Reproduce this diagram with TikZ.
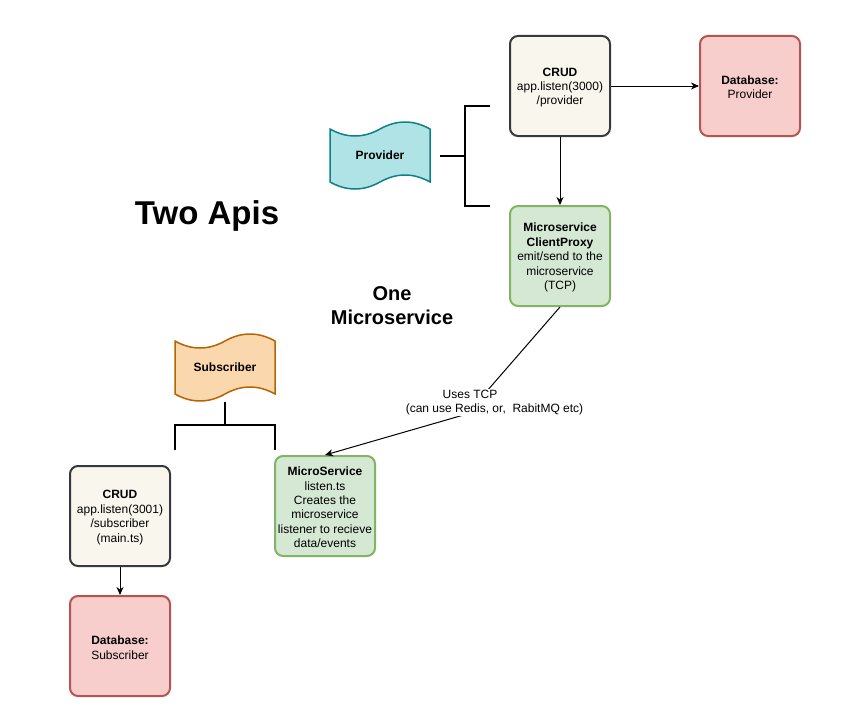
\documentclass[tikz,border=0pt]{standalone}
\usepackage{fontspec}
\setmainfont{Liberation Sans}
\usetikzlibrary{arrows.meta}
\definecolor{crudfill}{HTML}{F9F7ED}
\definecolor{crudline}{HTML}{36393D}
\definecolor{dbfill}{HTML}{F8CECC}
\definecolor{dbline}{HTML}{B85450}
\definecolor{grfill}{HTML}{D5E8D4}
\definecolor{grline}{HTML}{82B366}
\definecolor{provfill}{HTML}{B0E3E6}
\definecolor{provline}{HTML}{0E8088}
\definecolor{subfill}{HTML}{FAD7AC}
\definecolor{subline}{HTML}{B46504}
\newcommand\tapeshape[3]{%
\begin{scope}[shift={(#1)}]
\draw[fill=#2,draw=#3,line width=1.5pt] (-50,-26.5) .. controls (-33.33,-17.17) and (-16.67,-17.17) .. (0,-26.5) .. controls (16.67,-35.83) and (33.33,-35.83) .. (50,-26.5) -- (50,26.5) .. controls (33.33,17.17) and (16.67,17.17) .. (0,26.5) .. controls (-16.67,35.83) and (-33.33,35.83) .. (-50,26.5) -- cycle;
\end{scope}}
\tikzset{
  box/.style={rounded corners=8pt, line width=2pt, minimum width=100pt, minimum height=100pt, inner sep=0pt, align=center, font=\fontsize{12}{14.4}\selectfont},
  crudbox/.style={box, fill=crudfill, draw=crudline},
  dbbox/.style={box, fill=dbfill, draw=dbline},
  greenbox/.style={box, fill=grfill, draw=grline},
  tapetext/.style={minimum width=100pt, minimum height=53pt, inner sep=0pt, font=\fontsize{12}{14.4}\selectfont\bfseries},
  conn/.style={line width=1pt, -{Stealth[length=8pt,width=7pt,inset=2.5pt]}},
  bracket/.style={line width=2pt, line join=miter},
  lbl/.style={fill=white, inner sep=1pt, align=center, font=\fontsize{12}{14.4}\selectfont}
}
\begin{document}
\begin{tikzpicture}[x=1pt,y=-1pt]
\useasboundingbox (0,0) rectangle (842,725);
% boxes
\node[crudbox] (crudP) at (560,86) {};
\node[dbbox] (dbP) at (750,86) {};
\node[greenbox] (cp) at (560,256) {};
\node[greenbox] (ms) at (325,506) {};
\node[crudbox] (crudS) at (120,516) {};
\node[dbbox] (dbS) at (120,646) {};
% box texts
\node[box, minimum height=0pt] (crudPt) at ([yshift=-1.5pt]crudP.center) {\textbf{CRUD}\\app.listen(3000)\\/provider};
\node[box, minimum height=0pt] (dbPt) at ([yshift=-1.5pt]dbP.center) {\textbf{Database:}\\Provider};
\node[box, minimum height=0pt] (cpt) at ([yshift=-1.5pt]cp.center) {\textbf{Microservice}\\\textbf{ClientProxy}\\emit/send to the\\microservice\\(TCP)};
\node[box, minimum height=0pt] (mst) at ([yshift=-1.5pt]ms.center) {\textbf{MicroService}\\listen.ts\\Creates the\\microservice\\listener to recieve\\data/events};
\node[box, minimum height=0pt] (crudSt) at ([yshift=-1.5pt]crudS.center) {\textbf{CRUD}\\app.listen(3001)\\/subscriber\\(main.ts)};
\node[box, minimum height=0pt] (dbSt) at ([yshift=-1.5pt]dbS.center) {\textbf{Database:}\\Subscriber};
% tapes
\coordinate (provC) at (380,155.5);
\tapeshape{provC}{provfill}{provline}
\node[tapetext] (prov) at (provC) {Provider};
\coordinate (subC) at (225,367.5);
\tapeshape{subC}{subfill}{subline}
\node[tapetext] (sub) at (subC) {Subscriber};
% titles
\node[font=\fontsize{33}{40}\selectfont\bfseries] (title) at (207,216) {Two Apis};
\node[font=\fontsize{20}{24}\selectfont\bfseries, align=center] (title2) at (392,306) {One\\Microservice};
% brackets
\coordinate (pb1) at (440,156);
\coordinate (pb2) at (465,156);
\coordinate (pbt) at (490,106);
\coordinate (pbb) at (490,206);
\draw[bracket] (pb1) -- (pb2);
\draw[bracket] (pbt) -- (pbt -| pb2) -- (pbb -| pb2) -- (pbb);
\coordinate (sb1) at (225,402);
\coordinate (sb2) at (225,425);
\coordinate (sbl) at (175,450);
\coordinate (sbr) at (275,450);
\draw[bracket] (sb1) -- (sb2);
\draw[bracket] (sbl) -- (sbl |- sb2) -- (sbr |- sb2) -- (sbr);
% connectors
\draw[conn] (crudP.east) -- (dbP.west);
\draw[conn] (crudP.south) -- (cp.north);
\draw[conn] (crudS.south) -- (dbS.north);
\coordinate (bend) at (467,414);
\draw[conn] (cp.south) -- (bend) -- (ms.north);
\node[lbl] (tcp) at (494.5,402.5) {Uses TCP\hspace*{49pt}\\(can use Redis, or,~ RabitMQ etc)};
\end{tikzpicture}
\end{document}
